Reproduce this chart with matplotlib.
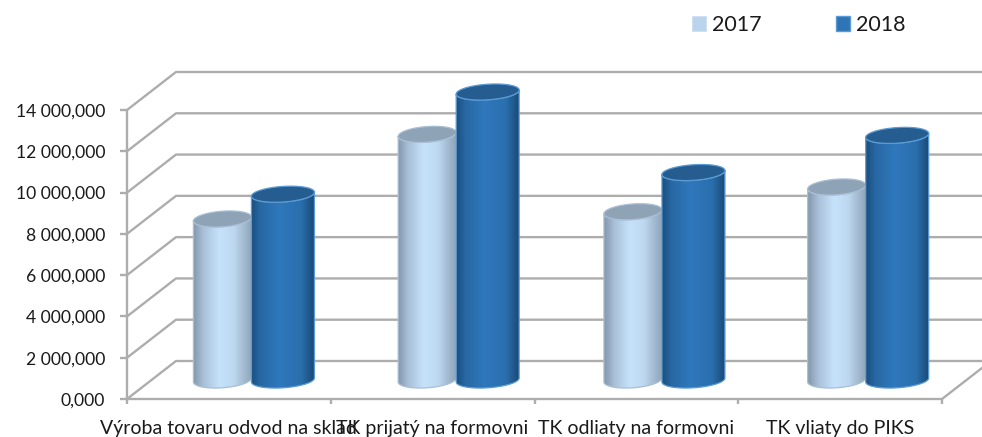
import matplotlib
matplotlib.use("Agg")
import matplotlib.pyplot as plt
import numpy as np
from matplotlib.colors import LinearSegmentedColormap
from matplotlib.patches import Patch, Polygon

plt.rcParams['font.family'] = ['Lato', 'DejaVu Sans']

categories = ["Výroba tovaru odvod na sklad", "TK prijatý na formovni",
              "TK odliaty na formovni", "TK vliaty do PIKS"]
years = ["2017", "2018"]
values_2017 = [7800000, 11900000, 8150000, 9350000]
values_2018 = [9000000, 13950000, 10050000, 11850000]
y_ticks = [0, 2000000, 4000000, 6000000, 8000000, 10000000, 12000000, 14000000]
y_labels = ["0,000", "2 000,000", "4 000,000", "6 000,000", "8 000,000",
            "10 000,000", "12 000,000", "14 000,000"]

W, H = 982, 437
GRID = "#adadad"
TEXT = "#1a1a1a"

fig = plt.figure(figsize=(W / 100, H / 100), dpi=100)
# front plane of the fake 3d box
ax = fig.add_axes([127 / W, 1 - 399 / H, (942 - 127) / W, (399 - 110) / H])
ax.set_xlim(0, 4)
ax.set_ylim(0, 14000000)
ax.axis("off")

px_x = 4 / (942 - 127)
px_y = 14000000 / (399 - 110)
depth_x = 49 * px_x
depth_y = 38 * px_y


def line(xs, ys, **kw):
    ax.plot(xs, ys, color=GRID, lw=1.7, clip_on=False, solid_capstyle="butt", zorder=1, **kw)


# walls
for v, lab in zip(y_ticks, y_labels):
    line([0, depth_x, 4 + depth_x], [v, v + depth_y, v + depth_y])
    line([-7 * px_x, 0], [v, v])
    ax.text(-22 * px_x, v, lab, ha="right", va="center_baseline", fontsize=12.6, color=TEXT)
line([0, 0], [0, 14000000])
line([0, 4, 4 + depth_x], [0, 0, depth_y])
for i in range(5):
    line([i, i], [0, -5 * px_y])
for i, c in enumerate(categories):
    ax.text(i + 0.5, -28 * px_y, c, ha="center", va="center_baseline", fontsize=14, color=TEXT)

cmap_2017 = LinearSegmentedColormap.from_list("c17", [(0, "#8397ab"), (0.18, "#a9c1d8"), (0.45, "#c6e2fb"),
                                                      (0.7, "#bdd7ef"), (1, "#8ea4b9")])
cmap_2018 = LinearSegmentedColormap.from_list("c18", [(0, "#1b4f7f"), (0.15, "#2868a3"), (0.45, "#2f78bd"),
                                                      (0.8, "#2a6fad"), (1, "#1a4a76")])
t = np.linspace(0, 2 * np.pi, 121)
shift_px = [-1, 0, 2, 2]


def cylinder(xc, v, half_w, cmap, top, rim, z):
    # half ellipse height and tilt, in pixels
    b = 7.8
    tilt = 2
    ex = half_w * px_x * np.cos(t)
    ey = (b * np.sin(t) + tilt * np.cos(t)) * px_y
    base = depth_y / 2
    lower = t[(t >= np.pi) & (t <= 2 * np.pi)]
    lx = xc + half_w * px_x * np.cos(lower)
    ly = base + (b * np.sin(lower) + tilt * np.cos(lower)) * px_y
    ux = xc + half_w * px_x * np.cos(lower[::-1])
    uy = base + v + (b * np.sin(lower[::-1]) + tilt * np.cos(lower[::-1])) * px_y
    body = Polygon(np.column_stack([np.r_[lx, ux], np.r_[ly, uy]]), closed=True, fc="none",
                   ec=rim, lw=0.9, zorder=z + 0.2, clip_on=False)
    ax.add_patch(body)
    grad = np.linspace(0, 1, 256).reshape(1, -1)
    im = ax.imshow(grad, cmap=cmap, aspect="auto", zorder=z, interpolation="bilinear",
                   extent=[xc - half_w * px_x, xc + half_w * px_x, base - 12 * px_y, base + v + 12 * px_y])
    im.set_clip_box(fig.bbox)
    im.set_clip_path(body)
    ax.add_patch(Polygon(np.column_stack([xc + ex, base + v + ey]), closed=True, fc=top, ec=rim,
                         lw=0.9, zorder=z + 0.3, clip_on=False))


for i in range(4):
    mid = i + 0.5 + depth_x / 2 + shift_px[i] * px_x
    cylinder(mid - 0.147, values_2017[i], 29, cmap_2017, "#8fa3b7", "#a9bfd3", 2 + i * 2)
    cylinder(mid + 0.150, values_2018[i], 31.5, cmap_2018, "#255d90", "#5b9bd5", 3 + i * 2)

ax.set_xlim(0, 4)
ax.set_ylim(0, 14000000)

handles = [Patch(fc="#bad4ec", ec="#c8dcf0", lw=0.5), Patch(fc="#2e75b6", ec="#5b9bd5", lw=1)]
fig.legend(handles, years, ncol=2, frameon=False, fontsize=15.5, loc="center left",
           bbox_to_anchor=(692 / W, 1 - 25 / H), handlelength=0.65, handleheight=0.65,
           handletextpad=0.28, columnspacing=3.44, labelcolor=TEXT, borderpad=0, borderaxespad=0)

fig.savefig("out.png", dpi=100)
